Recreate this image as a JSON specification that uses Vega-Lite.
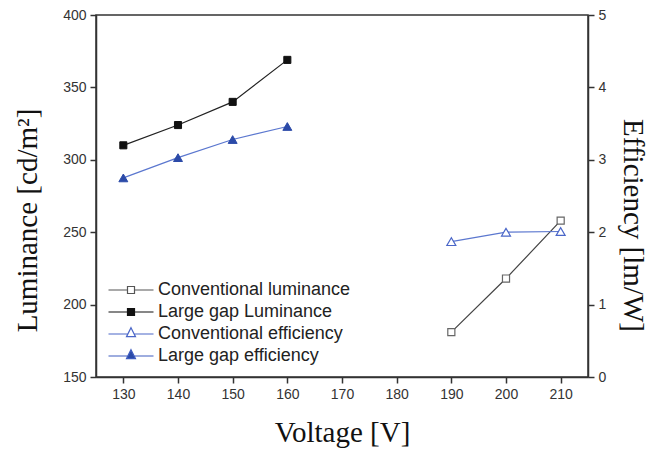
{
  "$schema": "https://vega.github.io/schema/vega-lite/v6.json",
  "width": 492,
  "height": 362,
  "autosize": {"type": "none"},
  "padding": {"left": 96, "top": 15, "right": 61, "bottom": 75},
  "background": "white",
  "config": {
    "view": {"stroke": "#333", "strokeWidth": 1.5},
    "axis": {
      "grid": false,
      "domainColor": "#333",
      "domainWidth": 1.5,
      "tickColor": "#333",
      "tickWidth": 1.5,
      "tickSize": 6,
      "labelFont": "Liberation Sans",
      "labelFontSize": 14,
      "labelColor": "#333",
      "labelPadding": 4,
      "titleFont": "Liberation Serif",
      "titleFontSize": 29,
      "titleFontWeight": "normal",
      "titleColor": "#111"
    }
  },
  "datasets": {
    "d": [
      {"series": "Large gap Luminance", "voltage": 130, "value": 310},
      {"series": "Large gap Luminance", "voltage": 140, "value": 324},
      {"series": "Large gap Luminance", "voltage": 150, "value": 340},
      {"series": "Large gap Luminance", "voltage": 160, "value": 369},
      {"series": "Conventional luminance", "voltage": 190, "value": 181},
      {"series": "Conventional luminance", "voltage": 200, "value": 218},
      {"series": "Conventional luminance", "voltage": 210, "value": 258},
      {"series": "Large gap efficiency", "voltage": 130, "value": 2.75},
      {"series": "Large gap efficiency", "voltage": 140, "value": 3.03},
      {"series": "Large gap efficiency", "voltage": 150, "value": 3.28},
      {"series": "Large gap efficiency", "voltage": 160, "value": 3.46},
      {"series": "Conventional efficiency", "voltage": 190, "value": 1.87},
      {"series": "Conventional efficiency", "voltage": 200, "value": 2.0},
      {"series": "Conventional efficiency", "voltage": 210, "value": 2.01}
    ]
  },
  "data": {"name": "d"},
  "encoding": {
    "x": {
      "field": "voltage",
      "type": "quantitative",
      "scale": {"domain": [125, 215], "nice": false, "zero": false},
      "axis": {"values": [130, 140, 150, 160, 170, 180, 190, 200, 210], "title": "Voltage [V]", "titlePadding": 17}
    }
  },
  "layer": [
    {
      "encoding": {
        "y": {
          "field": "value",
          "type": "quantitative",
          "scale": {"domain": [150, 400], "nice": false, "zero": false},
          "axis": {"orient": "left", "values": [150, 200, 250, 300, 350, 400], "title": "Luminance [cd/m²]", "titleY": 205, "titlePadding": 20}
        }
      },
      "layer": [
        {
          "transform": [{"filter": "datum.series === 'Conventional luminance'"}],
          "mark": {"type": "line", "color": "#444", "strokeWidth": 1.2}
        },
        {
          "transform": [{"filter": "datum.series === 'Conventional luminance'"}],
          "mark": {"type": "point", "shape": "square", "size": 50, "filled": true, "fill": "white", "stroke": "#666", "strokeWidth": 1.2, "opacity": 1}
        },
        {
          "transform": [{"filter": "datum.series === 'Large gap Luminance'"}],
          "mark": {"type": "line", "color": "#222", "strokeWidth": 1.2}
        },
        {
          "transform": [{"filter": "datum.series === 'Large gap Luminance'"}],
          "mark": {"type": "point", "shape": "square", "size": 50, "filled": true, "fill": "#111", "stroke": "#111", "strokeWidth": 1, "opacity": 1}
        }
      ]
    },
    {
      "encoding": {
        "y": {
          "field": "value",
          "type": "quantitative",
          "scale": {"domain": [0, 5], "nice": false},
          "axis": {"orient": "right", "values": [0, 1, 2, 3, 4, 5], "title": "Efficiency [lm/W]", "titleY": 210, "titlePadding": 12}
        }
      },
      "layer": [
        {
          "transform": [{"filter": "datum.series === 'Conventional efficiency'"}],
          "mark": {"type": "line", "color": "#5b77cf", "strokeWidth": 1.2}
        },
        {
          "transform": [{"filter": "datum.series === 'Conventional efficiency'"}],
          "mark": {"type": "point", "shape": "triangle-up", "size": 80, "filled": true, "fill": "white", "stroke": "#4a66c8", "strokeWidth": 1.2, "opacity": 1}
        },
        {
          "transform": [{"filter": "datum.series === 'Large gap efficiency'"}],
          "mark": {"type": "line", "color": "#5b77cf", "strokeWidth": 1.2}
        },
        {
          "transform": [{"filter": "datum.series === 'Large gap efficiency'"}],
          "mark": {"type": "point", "shape": "triangle-up", "size": 80, "filled": true, "fill": "#2b4aa8", "stroke": "#2b4aa8", "strokeWidth": 1, "opacity": 1}
        }
      ]
    },
    {
      "transform": [{"filter": "false"}],
      "mark": {"type": "point", "opacity": 1, "strokeWidth": 1.2},
      "encoding": {
        "shape": {
          "field": "series",
          "type": "nominal",
          "scale": {
            "domain": ["Conventional luminance", "Large gap Luminance", "Conventional efficiency", "Large gap efficiency"],
            "range": [
              "M-4.5,0H-0.7M0.7,0H4.5M-0.7,-0.7H0.7V0.7H-0.7Z",
              "M-4.5,0H-0.7M0.7,0H4.5M-0.7,-0.7H0.7V0.7H-0.7Z",
              "M-4.5,0H-0.63M0.63,0H4.5M0,-1.26L0.9,0.54L-0.9,0.54Z",
              "M-4.5,0H-0.63M0.63,0H4.5M0,-1.26L0.9,0.54L-0.9,0.54Z"
            ]
          },
          "legend": {
            "orient": "none",
            "legendX": 26,
            "legendY": 266,
            "direction": "vertical",
            "title": null,
            "padding": 0,
            "labelFont": "Liberation Sans",
            "labelFontSize": 18,
            "labelColor": "#222",
            "labelOffset": 18,
            "labelLimit": 400,
            "rowPadding": 4,
            "symbolSize": 100,
            "symbolStrokeWidth": 1.2
          }
        },
        "fill": {
          "field": "series",
          "type": "nominal",
          "scale": {
            "domain": ["Conventional luminance", "Large gap Luminance", "Conventional efficiency", "Large gap efficiency"],
            "range": ["white", "#111", "white", "#2b4aa8"]
          }
        },
        "stroke": {
          "field": "series",
          "type": "nominal",
          "scale": {
            "domain": ["Conventional luminance", "Large gap Luminance", "Conventional efficiency", "Large gap efficiency"],
            "range": ["#555", "#111", "#4a66c8", "#3e5cc0"]
          }
        }
      }
    }
  ],
  "resolve": {"scale": {"y": "independent"}}
}
